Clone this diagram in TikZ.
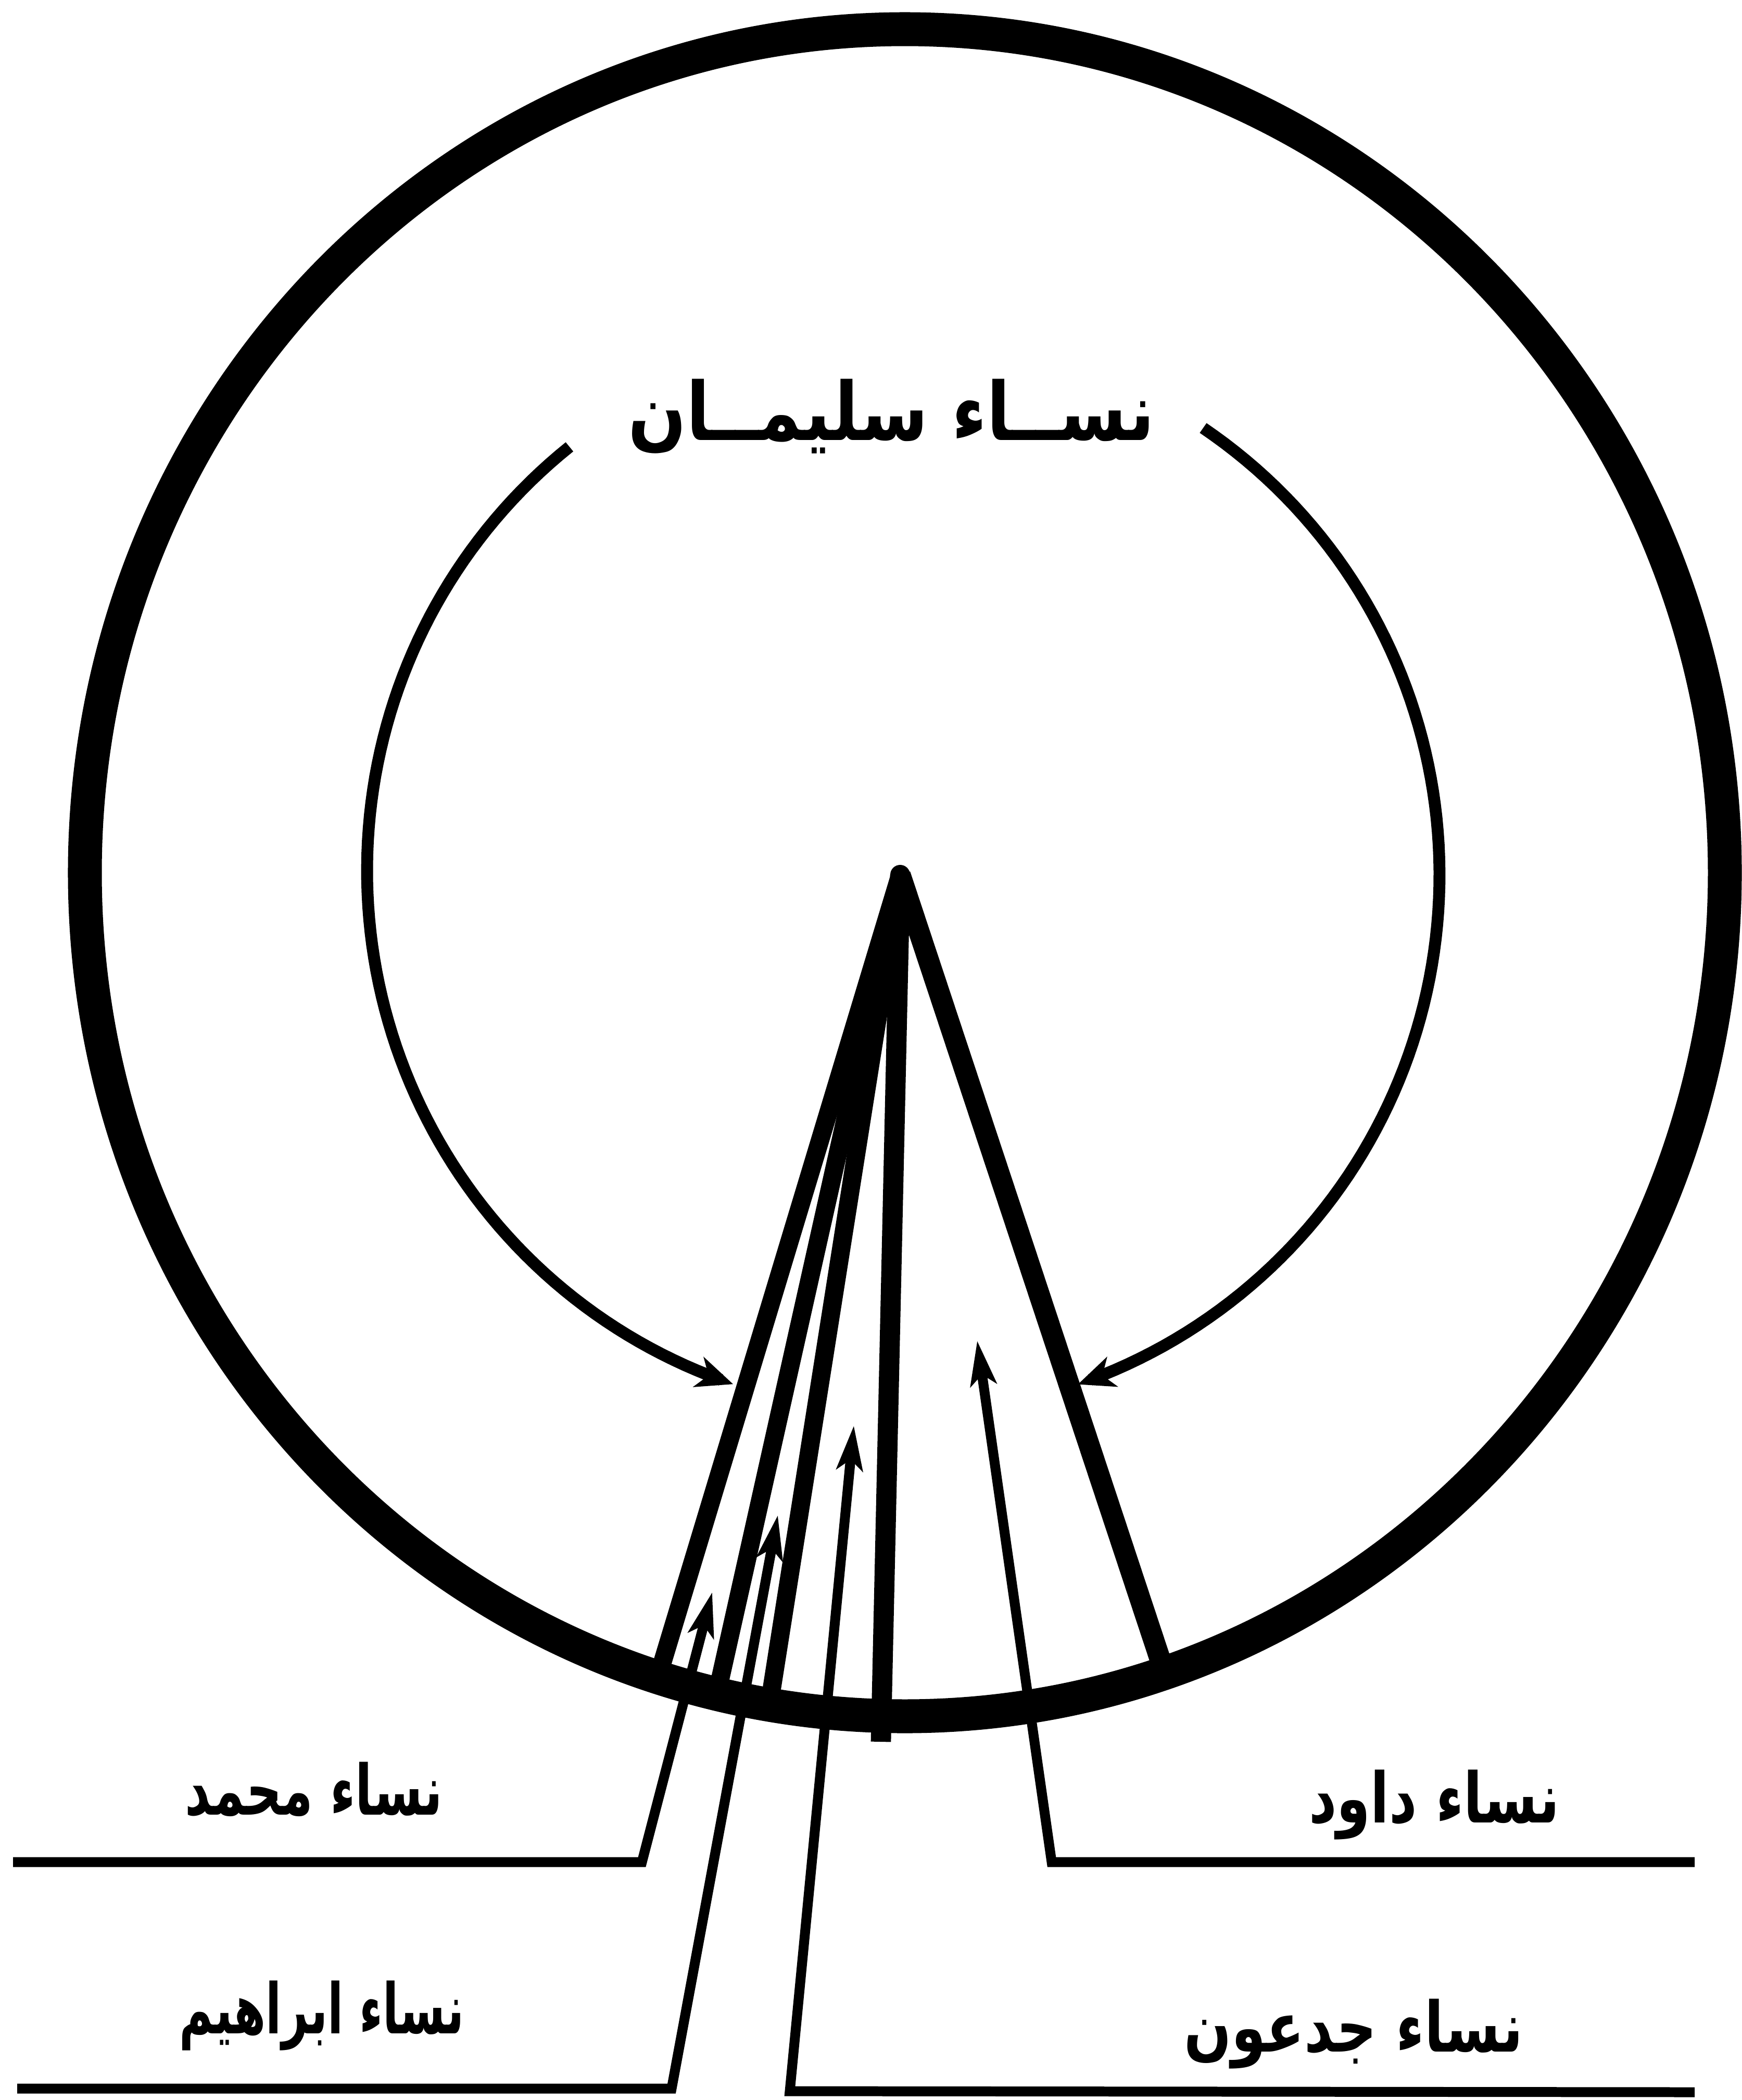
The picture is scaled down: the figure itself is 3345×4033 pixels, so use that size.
\documentclass[tikz,border=0pt]{standalone}
\usepackage{fontspec}
\usepackage{graphicx}
\TeXXeTstate=1
\newfontfamily\arabicfont[Script=Arabic]{DejaVu Sans}
\usetikzlibrary{arrows.meta}
\begin{document}
\begin{tikzpicture}[x=0.01cm,y=-0.01cm,
  ring/.style={line width=18.5pt},
  innerarc/.style={line width=6.5pt,-{Stealth[length=0.7cm,width=0.6cm,inset=0.2cm]}},
  ray/.style={line width=10pt,line cap=butt},
  lead/.style={line width=5.4pt,line join=miter,-{Stealth[length=0.85cm,width=0.5cm,inset=0.2cm]}},
  lbl/.style={font=\arabicfont\bfseries\fontsize{38}{40}\selectfont,anchor=base,inner sep=0pt},
  ttl/.style={font=\arabicfont\bfseries\fontsize{44}{46}\selectfont,anchor=base,inner sep=0pt}
]
\useasboundingbox (0,0) rectangle (3345,4033);
\fill[white] (0,0) rectangle (3345,4033);

% outer ring
\draw[ring] (1738,1676) ellipse [x radius=1575, y radius=1620];

% inner arcs with arrows
\draw[innerarc] plot[domain=128.5:251.5,samples=90] ({1735+1030*cos(\x)},{1672-1040*sin(\x)});
\draw[innerarc] plot[domain=56:-71,samples=90] ({1735+1030*cos(\x)},{1680-1035*sin(\x)});

% apex and rays
\coordinate (apex) at (1729,1680);
\coordinate (Aend) at (1255,3250);
\coordinate (Bend) at (1372,3275);
\coordinate (Cend) at (1475,3290);
\coordinate (Dend) at (1692,3345);
\coordinate (Eend) at (2246,3240);
\fill (apex) circle (19);
\draw[ray] (apex) -- (Aend);
\draw[ray] (apex) -- (Bend);
\draw[ray] (apex) -- (Cend);
\draw[ray,line width=11pt] (apex) -- (Dend);
\draw[ray,line width=11.5pt] (apex) -- (Eend);

% labels
\node[ttl] (tS) at (1712,845) {\scalebox{0.85}[1]{\beginR نســاء سليمــان\endR}};
\node[lbl] (tM) at (603,3485) {\scalebox{0.71}[1]{\beginR نساء محمد\endR}};
\node[lbl] (tA) at (618,3905) {\scalebox{0.66}[1]{\beginR نساء ابراهيم\endR}};
\node[lbl] (tD) at (2755,3500) {\scalebox{0.78}[1]{\beginR نساء داود\endR}};
\node[lbl] (tJ) at (2600,3940) {\scalebox{0.8}[1]{\beginR نساء جدعون\endR}};

% leader lines with arrows
\coordinate (tipF) at (1368,3058);
\coordinate (bendF) at (1233,3576);
\coordinate (endF) at (25,3576);
\coordinate (tipG) at (1494,2910);
\coordinate (bendG) at (1290,4011);
\coordinate (endG) at (33,4011);
\coordinate (tipH) at (1640,2738);
\coordinate (bendH) at (1517,4016);
\coordinate (endH) at (3255,4018);
\coordinate (tipI) at (1877,2575);
\coordinate (bendI) at (2020,3576);
\coordinate (endI) at (3255,3576);
\draw[lead] (endF) -- (bendF) -- (tipF);
\draw[lead] (endG) -- (bendG) -- (tipG);
\draw[lead] (endH) -- (bendH) -- (tipH);
\draw[lead] (endI) -- (bendI) -- (tipI);
\end{tikzpicture}
\end{document}
